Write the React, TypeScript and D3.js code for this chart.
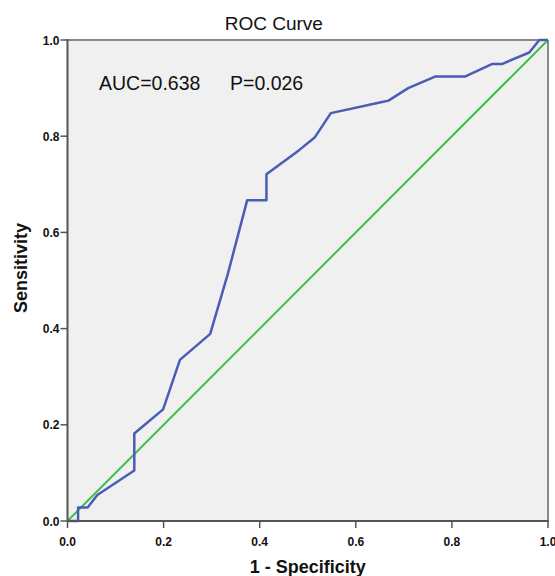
import React from "react";
import * as d3 from "d3";

const rocX = [0, 0.022, 0.022, 0.042, 0.062, 0.139, 0.139, 0.199, 0.234, 0.297, 0.334, 0.374, 0.414, 0.414, 0.482, 0.515, 0.548, 0.650, 0.668, 0.709, 0.765, 0.827, 0.883, 0.904, 0.961, 0.982, 1.0];
const rocY = [0, 0, 0.028, 0.028, 0.054, 0.105, 0.182, 0.232, 0.335, 0.389, 0.515, 0.667, 0.667, 0.721, 0.771, 0.798, 0.848, 0.870, 0.874, 0.900, 0.924, 0.924, 0.950, 0.950, 0.974, 1.0, 1.0];
const refX = [0, 1];
const refY = [0, 1];
const ticks = [0, 0.2, 0.4, 0.6, 0.8, 1.0];
const title = "ROC Curve";
const aucText = "AUC=0.638";
const pText = "P=0.026";
const xTitle = "1 - Specificity";
const yTitle = "Sensitivity";

export default function App() {
  const W = 555, H = 576;
  const left = 67.5, right = 548, top = 40, bottom = 521;
  const x = d3.scaleLinear().domain([0, 1]).range([left, right]);
  const y = d3.scaleLinear().domain([0, 1]).range([bottom, top]);
  const line = d3.line<number>().x((_, i) => x(rocX[i])).y((d) => y(d));
  const refLine = d3.line<number>().x((_, i) => x(refX[i])).y((d) => y(d));
  const font = "'Liberation Sans', Arial, sans-serif";
  return (
    <svg width={W} height={H} style={{ position: "absolute", left: 0, top: 0 }} fontFamily={font}>
      <rect x={0} y={0} width={W} height={H} fill="#ffffff" />
      <rect x={left} y={top} width={right - left} height={bottom - top} fill="#f0f0f0" />
      <line x1={left} x2={right} y1={top} y2={top} stroke="#8a8a8a" strokeWidth={2} />
      <line x1={right} x2={right} y1={top} y2={bottom} stroke="#8a8a8a" strokeWidth={2} />
      <path d={refLine(refY) || ""} fill="none" stroke="#3cbf46" strokeWidth={2} />
      <path d={line(rocY) || ""} fill="none" stroke="#4a5db5" strokeWidth={2.5} strokeLinejoin="round" />
      <line x1={left} x2={left} y1={top - 1} y2={bottom} stroke="#555" strokeWidth={2} />
      <line x1={left} x2={right + 1} y1={bottom} y2={bottom} stroke="#555" strokeWidth={2} />
      {ticks.map((t) => (
        <g key={"y" + t}>
          <line x1={left - 7} x2={left} y1={y(t)} y2={y(t)} stroke="#555" strokeWidth={1.5} />
          <text x={left - 8} y={y(t)} dy="0.38em" textAnchor="end" fontSize={12} fontWeight="bold" fill="#111">
            {t.toFixed(1)}
          </text>
        </g>
      ))}
      {ticks.map((t) => (
        <g key={"x" + t}>
          <line x1={x(t)} x2={x(t)} y1={bottom} y2={bottom + 7} stroke="#555" strokeWidth={1.5} />
          <text x={x(t)} y={546} textAnchor="middle" fontSize={12} fontWeight="bold" fill="#111">
            {t.toFixed(1)}
          </text>
        </g>
      ))}
      <text x={(left + right) / 2 - 34} y={30} textAnchor="middle" fontSize={19} fill="#111">{title}</text>
      <text x={99} y={90} fontSize={19.5} fill="#111">{aucText}</text>
      <text x={230} y={90} fontSize={19.5} fill="#111">{pText}</text>
      <text x={(left + right) / 2} y={573} textAnchor="middle" fontSize={18} fontWeight="bold" fill="#111">{xTitle}</text>
      <text transform={`translate(26.5,268) rotate(-90)`} textAnchor="middle" fontSize={18} fontWeight="bold" fill="#111">{yTitle}</text>
    </svg>
  );
}
